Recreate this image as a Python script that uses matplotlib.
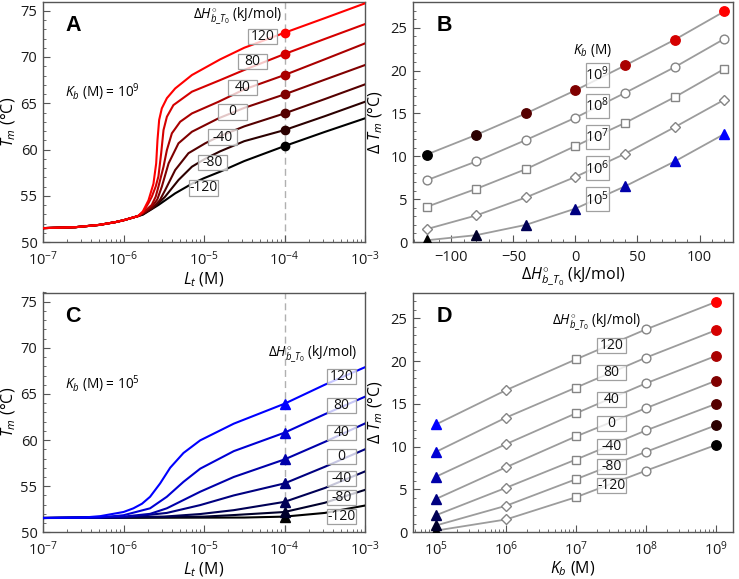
import numpy as np
import matplotlib
matplotlib.use("Agg")
import matplotlib.pyplot as plt
import matplotlib.transforms as mtrans
from matplotlib.patches import Rectangle
from matplotlib.ticker import MultipleLocator, LogLocator, NullFormatter, FixedLocator

plt.rcParams['font.family'] = ['Open Sans', 'DejaVu Sans']
plt.rcParams['mathtext.fontset'] = 'custom'
plt.rcParams['mathtext.rm'] = 'Open Sans'
plt.rcParams['mathtext.it'] = 'Open Sans:italic'
plt.rcParams['mathtext.bf'] = 'Open Sans:bold'

# ---------------- data ----------------
dH = [-120, -80, -40, 0, 40, 80, 120]
Kb_exp = [5, 6, 7, 8, 9]

# Delta Tm (B / D): rows = Kb (1e5..1e9), cols = dH
dTm_K5 = [0.2, 0.8, 2.0, 3.9, 6.5, 9.4, 12.6]
dTm_K6 = [1.5, 3.1, 5.2, 7.6, 10.3, 13.4, 16.6]
dTm_K7 = [4.1, 6.2, 8.5, 11.2, 13.9, 16.9, 20.2]
dTm_K8 = [7.2, 9.4, 11.9, 14.5, 17.4, 20.4, 23.7]
dTm_K9 = [10.2, 12.5, 15.0, 17.7, 20.6, 23.6, 26.9]

# Panel A curves (Kb=1e9): log10(Lt) and Tm
A_base_x = [-7.0, -6.6, -6.3, -6.1, -6.0, -5.9, -5.82]
A_base_y = [51.5, 51.6, 51.85, 52.15, 52.35, 52.6, 52.8]
A_x = {
    120: [-5.76, -5.69, -5.628, -5.594, -5.578, -5.557, -5.524, -5.461, -5.358, -5.15, -4.8, -4.5, -4.0, -3.5, -3.0],
    80:  [-5.76, -5.69, -5.648, -5.6, -5.566, -5.532, -5.503, -5.461, -5.38, -5.15, -4.8, -4.5, -4.0, -3.5, -3.0],
    40:  [-5.76, -5.65, -5.6, -5.566, -5.503, -5.461, -5.399, -5.296, -5.15, -4.82, -4.5, -4.0, -3.5, -3.0],
    0:   [-5.76, -5.65, -5.58, -5.524, -5.44, -5.317, -5.15, -4.82, -4.5, -4.0, -3.5, -3.0],
    -40: [-5.76, -5.65, -5.55, -5.483, -5.358, -5.193, -4.985, -4.82, -4.5, -4.0, -3.5, -3.0],
    -80: [-5.76, -5.6, -5.483, -5.317, -5.15, -4.985, -4.8, -4.5, -4.0, -3.5, -3.0],
    -120: [-5.76, -5.566, -5.358, -5.15, -5.0, -4.8, -4.5, -4.0, -3.5, -3.0],
}
A_y = {
    120: [53.3, 54.5, 56.3, 58.5, 61.0, 63.2, 64.45, 65.55, 66.6, 68.05, 69.74, 71.0, 72.62, 74.2, 75.8],
    80:  [53.2, 54.2, 54.9, 56.0, 57.1, 59.6, 62.1, 63.54, 64.8, 66.25, 67.5, 68.6, 70.32, 71.95, 73.56],
    40:  [53.15, 54.0, 54.9, 55.98, 58.14, 59.94, 61.75, 63.0, 63.9, 65.16, 66.5, 68.05, 69.75, 71.47],
    0:   [53.1, 53.8, 54.6, 55.98, 58.5, 60.67, 61.92, 63.37, 64.5, 65.96, 67.55, 69.13],
    -40: [53.05, 53.6, 54.5, 55.6, 57.78, 59.6, 60.67, 61.38, 62.5, 63.9, 65.45, 67.04],
    -80: [53.0, 53.9, 54.9, 56.7, 58.14, 59.0, 59.8, 60.9, 62.1, 63.6, 65.16],
    -120: [52.95, 54.0, 55.26, 56.3, 56.9, 57.6, 58.75, 60.37, 61.9, 63.37],
}
A_dots = [60.4, 62.1, 63.9, 65.96, 68.05, 70.3, 72.62]

# Panel C curves (Kb=1e5)
C_x = {
    120: [-7.0, -6.5, -6.29, -6.0, -5.877, -5.77, -5.67, -5.545, -5.42, -5.255, -5.047, -4.63, -4.0, -3.5, -3.0],
    80:  [-7.0, -6.3, -6.0, -5.67, -5.462, -5.255, -5.047, -4.63, -4.0, -3.5, -3.0],
    40:  [-7.0, -6.0, -5.67, -5.462, -5.047, -4.63, -4.0, -3.5, -3.0],
    0:   [-7.0, -6.0, -5.462, -5.047, -4.63, -4.0, -3.5, -3.0],
    -40: [-7.0, -5.5, -5.047, -4.63, -4.0, -3.5, -3.0],
    -80: [-7.0, -5.0, -4.63, -4.0, -3.5, -3.0],
    -120: [-7.0, -4.5, -4.0, -3.5, -3.0],
}
C_y = {
    120: [51.55, 51.6, 51.75, 52.2, 52.6, 53.1, 53.85, 55.3, 57.0, 58.6, 59.97, 61.78, 63.94, 66.0, 67.9],
    80:  [51.55, 51.6, 51.85, 52.6, 53.85, 55.47, 56.9, 58.8, 60.8, 62.8, 64.7],
    40:  [51.55, 51.7, 52.0, 52.6, 54.4, 56.0, 57.9, 59.8, 61.8],
    0:   [51.55, 51.6, 52.1, 52.95, 54.0, 55.3, 57.1, 59.0],
    -40: [51.55, 51.7, 51.98, 52.4, 53.3, 54.8, 56.6],
    -80: [51.55, 51.7, 51.87, 52.2, 53.2, 54.6],
    -120: [51.55, 51.6, 51.7, 52.1, 52.9],
}
C_tri = [51.7, 52.2, 53.3, 55.3, 57.9, 60.8, 63.94]

# ---------------- styling ----------------
n = len(dH)
reds = [(i / (n - 1), 0, 0) for i in range(n)]
blues = [(0, 0, i / (n - 1)) for i in range(n)]
gray_line = '#9c9c9c'
mk_edge = '#858585'
spine_col = '#555555'

W, H = 739, 579
fig = plt.figure(figsize=(W / 100, H / 100), dpi=100)

def ax_at(l, t, r, b):
    return fig.add_axes([l / W, 1 - b / H, (r - l) / W, (b - t) / H])

axA = ax_at(43, 1.5, 365, 242)
axB = ax_at(413, 2.0, 733, 242)
axC = ax_at(43, 292.5, 365, 532.3)
axD = ax_at(413, 292.5, 733, 532.3)

def style(ax):
    for s in ax.spines.values():
        s.set_color(spine_col)
        s.set_linewidth(1.0)
    ax.tick_params(which='both', direction='in', colors=spine_col, labelcolor='#1a1a1a',
                   labelsize=10.5, top=False, right=False)
    ax.tick_params(which='major', length=5)
    ax.tick_params(which='minor', length=2.5)
    ax.tick_params(axis='x', which='major', pad=6)
    ax.tick_params(axis='y', which='major', pad=4)

def label_box(ax, x, y, text, wpx, hpx, fs=10):
    trans = fig.dpi_scale_trans + mtrans.ScaledTranslation(x, y, ax.transData)
    r = Rectangle((-wpx / 200, -hpx / 200), wpx / 100, hpx / 100, transform=trans,
                  fc=(1, 1, 1, 0.78), ec='#a0a0a0', lw=0.9, zorder=6, clip_on=False)
    ax.add_patch(r)
    ax.text(x, y, text, ha='center', va='center', fontsize=fs, zorder=7, color='#111111')

dH_label = r'$\Delta H^{\circ}_{b\_T_0}$ (kJ/mol)'

def log_axis(ax):
    ax.set_xscale('log')
    ax.xaxis.set_major_locator(LogLocator(base=10, numticks=12))
    ax.xaxis.set_minor_locator(LogLocator(base=10, subs=np.arange(2, 10), numticks=30))
    ax.xaxis.set_minor_formatter(NullFormatter())

# ---- Panel A ----
for i, h in enumerate(dH):
    xs = np.array(A_base_x + A_x[h])
    ys = np.array(A_base_y + A_y[h])
    axA.plot(10 ** xs, ys, color=reds[i], lw=1.5, zorder=3, solid_joinstyle='round')
    axA.plot(1e-4, A_dots[i], 'o', color=reds[i], ms=6, zorder=5)
axA.axvline(1e-4, color='#b0b0b0', lw=1.0, ls=(0, (5, 3)), zorder=1)
log_axis(axA)
axA.set_xlim(1e-7, 1e-3)
axA.set_ylim(50, 76)
axA.yaxis.set_major_locator(FixedLocator([50, 55, 60, 65, 70, 75]))
axA.yaxis.set_minor_locator(MultipleLocator(1))
axA.set_xlabel(r'$L_t$ (M)', fontsize=11.5, labelpad=1)
axA.set_ylabel(r'$T_m$ (°C)', fontsize=11.5, labelpad=2)
style(axA)
A_lab_pos = [(-5.006, 55.84), (-4.89, 58.57), (-4.77, 61.35), (-4.649, 64.08),
             (-4.525, 66.72), (-4.40, 69.49), (-4.274, 72.24)]
for i, h in enumerate(dH):
    lx, ly = A_lab_pos[i]
    label_box(axA, 10 ** lx, ly, str(h), 29, 15.5)
axA.text(10 ** -4.03, 74.4, dH_label, ha='right', va='center', fontsize=9.8, zorder=6)
axA.text(10 ** -6.73, 66.2, r'$K_b$ (M) = 10$^9$', ha='left', va='center', fontsize=9.8)
axA.text(0.093, 0.902, 'A', transform=axA.transAxes, ha='center', va='center',
         fontsize=15.5, fontweight='bold', family='Liberation Sans')

# ---- Panel C ----
for i, h in enumerate(dH):
    xs = np.array(C_x[h])
    ys = np.array(C_y[h])
    axC.plot(10 ** xs, ys, color=blues[i], lw=1.5, zorder=3, solid_joinstyle='round')
    axC.plot(1e-4, C_tri[i], '^', color=blues[i], ms=6.5, zorder=5)
axC.axvline(1e-4, color='#b0b0b0', lw=1.0, ls=(0, (5, 3)), zorder=1)
log_axis(axC)
axC.set_xlim(1e-7, 1e-3)
axC.set_ylim(50, 76)
axC.yaxis.set_major_locator(FixedLocator([50, 55, 60, 65, 70, 75]))
axC.yaxis.set_minor_locator(MultipleLocator(1))
axC.set_xlabel(r'$L_t$ (M)', fontsize=11.5, labelpad=1)
axC.set_ylabel(r'$T_m$ (°C)', fontsize=11.5, labelpad=2)
style(axC)
C_lab_y = [51.75, 53.8, 55.87, 58.2, 60.8, 63.8, 66.9]
for i, h in enumerate(dH):
    label_box(axC, 10 ** -3.29, C_lab_y[i], str(h), 29, 15)
axC.text(10 ** -3.095, 69.27, dH_label, ha='right', va='center', fontsize=9.8, zorder=6)
axC.text(10 ** -6.73, 66.1, r'$K_b$ (M) = 10$^5$', ha='left', va='center', fontsize=9.8)
axC.text(0.093, 0.902, 'C', transform=axC.transAxes, ha='center', va='center',
         fontsize=15.5, fontweight='bold', family='Liberation Sans')

# ---- Panel B ----
rows = [dTm_K5, dTm_K6, dTm_K7, dTm_K8, dTm_K9]
for r in rows:
    axB.plot(dH, r, color=gray_line, lw=1.3, zorder=2)
axB.plot(dH, dTm_K8, 'o', ms=6.3, mfc='white', mec=mk_edge, mew=1.0, ls='none', zorder=4)
axB.plot(dH, dTm_K7, 's', ms=6, mfc='white', mec=mk_edge, mew=1.0, ls='none', zorder=4)
axB.plot(dH, dTm_K6, 'D', ms=4.8, mfc='white', mec=mk_edge, mew=1.0, ls='none', zorder=4)
for i, h in enumerate(dH):
    axB.plot(h, dTm_K9[i], 'o', color=reds[i], ms=6.8, zorder=5)
    axB.plot(h, dTm_K5[i], '^', color=blues[i], ms=7, zorder=5)
axB.set_xlim(-131, 127)
axB.set_ylim(0, 28)
axB.xaxis.set_major_locator(MultipleLocator(50))
axB.xaxis.set_minor_locator(MultipleLocator(10))
axB.yaxis.set_major_locator(MultipleLocator(5))
axB.yaxis.set_minor_locator(MultipleLocator(1))
axB.set_xlabel(dH_label, fontsize=11.5, labelpad=0)
axB.set_ylabel(r'$\Delta\ T_m$ (°C)', fontsize=11.5, labelpad=4)
style(axB)
B_lab_y = [4.97, 8.59, 12.27, 15.9, 19.5]
for i, e in enumerate(Kb_exp):
    label_box(axB, 17.4, B_lab_y[i], r'10$^{%d}$' % e, 23, 24, fs=10.5)
axB.text(13.8, 22.4, r'$K_b$ (M)', ha='center', va='center', fontsize=9.8)
axB.text(0.097, 0.902, 'B', transform=axB.transAxes, ha='center', va='center',
         fontsize=15.5, fontweight='bold', family='Liberation Sans')

# ---- Panel D ----
Kvals = [10.0 ** e for e in Kb_exp]
cols = list(zip(*rows))  # per dH: values over Kb
for i, h in enumerate(dH):
    vals = cols[i]
    axD.plot(Kvals, vals, color=gray_line, lw=1.3, zorder=2)
    axD.plot(Kvals[1], vals[1], 'D', ms=4.8, mfc='white', mec=mk_edge, mew=1.0, zorder=4)
    axD.plot(Kvals[2], vals[2], 's', ms=6, mfc='white', mec=mk_edge, mew=1.0, zorder=4)
    axD.plot(Kvals[3], vals[3], 'o', ms=6.3, mfc='white', mec=mk_edge, mew=1.0, zorder=4)
    axD.plot(Kvals[4], vals[4], 'o', color=reds[i], ms=6.8, zorder=5)
    axD.plot(Kvals[0], vals[0], '^', color=blues[i], ms=7, zorder=5)
log_axis(axD)
axD.set_xlim(10 ** 4.67, 10 ** 9.243)
axD.set_ylim(0, 28)
axD.yaxis.set_major_locator(MultipleLocator(5))
axD.yaxis.set_minor_locator(MultipleLocator(1))
axD.set_xlabel(r'$K_b$ (M)', fontsize=11.5, labelpad=0)
axD.set_ylabel(r'$\Delta\ T_m$ (°C)', fontsize=11.5, labelpad=4)
style(axD)
D_lab_y = [5.5, 7.7, 10.05, 12.7, 15.45, 18.65, 21.8]
for i, h in enumerate(dH):
    label_box(axD, 10 ** 7.507, D_lab_y[i], str(h), 29, 15)
axD.text(10 ** 7.3, 24.5, dH_label, ha='center', va='center', fontsize=9.8)
axD.text(0.097, 0.902, 'D', transform=axD.transAxes, ha='center', va='center',
         fontsize=15.5, fontweight='bold', family='Liberation Sans')

fig.savefig('out.png', dpi=100)
